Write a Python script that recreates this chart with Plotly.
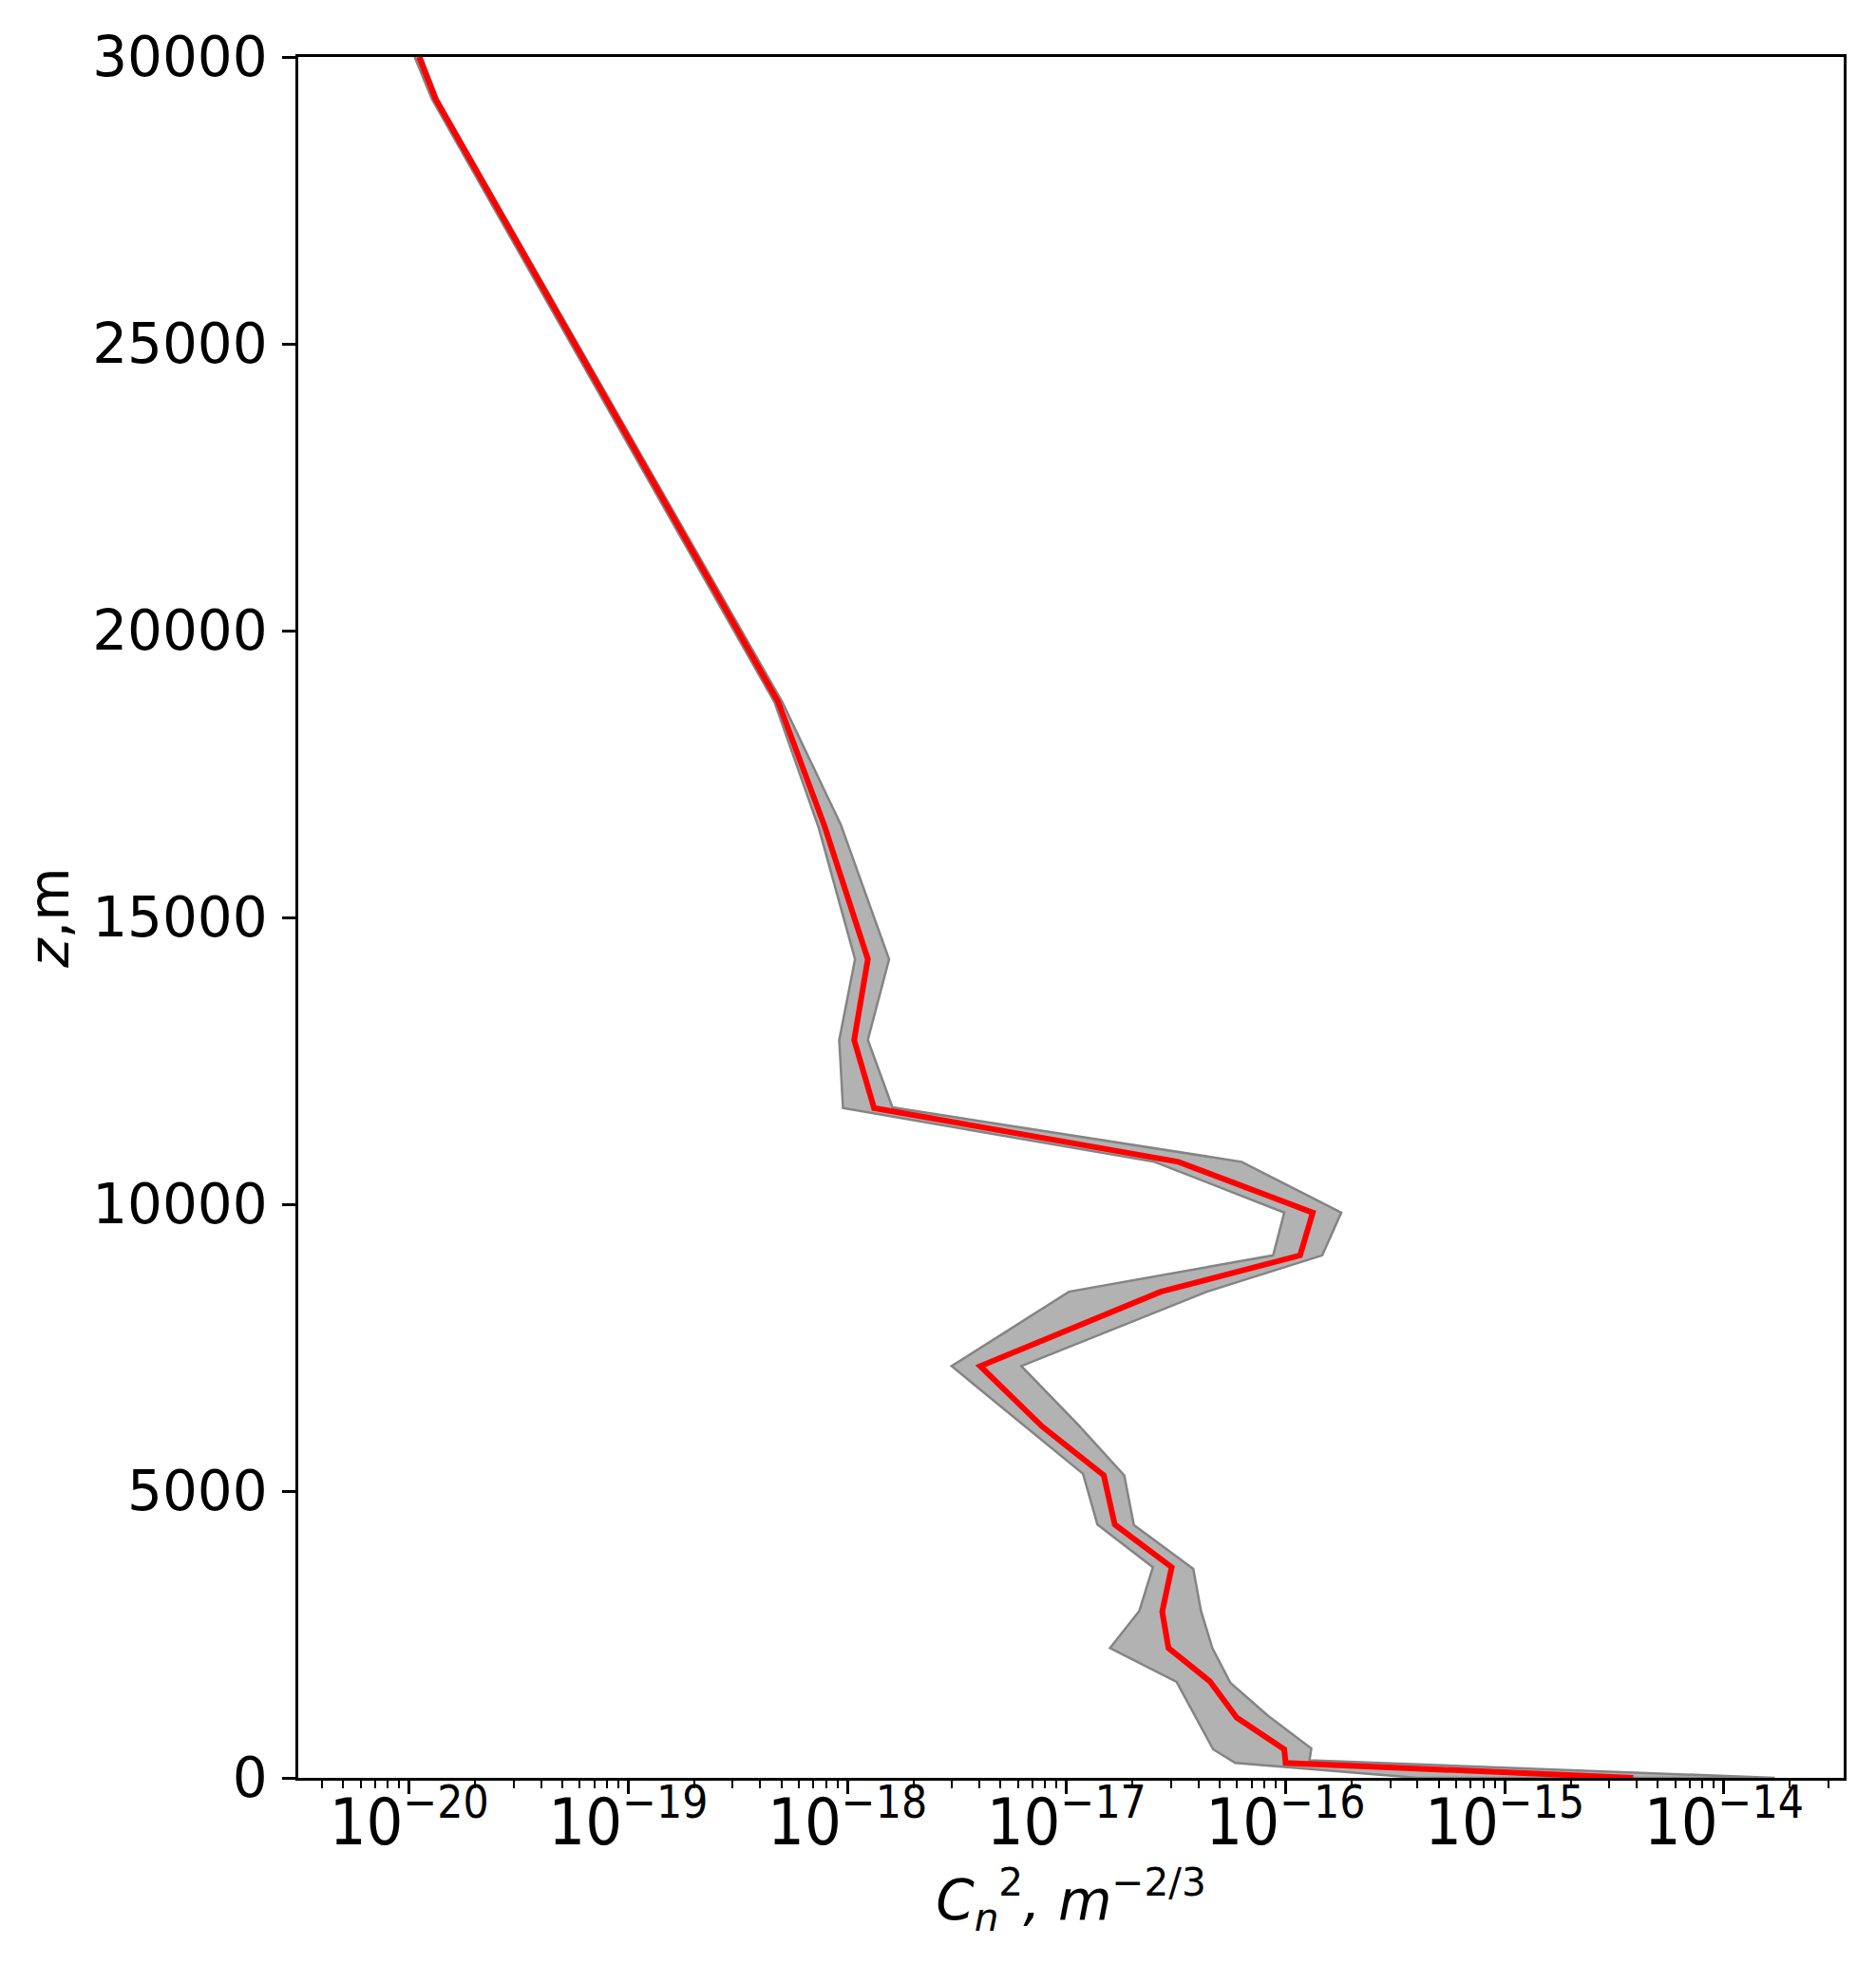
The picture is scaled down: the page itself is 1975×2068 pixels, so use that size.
import plotly.graph_objects as go

# ---- data ----
# mean Cn^2 profile
z_mean = [30000, 29267, 18760, 16590, 14271, 12864, 11676, 10739, 9854, 9109, 8475,
          7178, 6128, 5273, 4417, 3672, 2898, 2264, 1684, 1050, 497, 260, 0]
cn2_mean = [1.11e-20, 1.32e-20, 4.83e-19, 7.87e-19, 1.24e-18, 1.074e-18, 1.324e-18,
            3.24e-17, 1.33e-16, 1.164e-16, 2.69e-17, 4.04e-18, 7.73e-18, 1.48e-17,
            1.66e-17, 3.02e-17, 2.735e-17, 2.92e-17, 4.51e-17, 5.98e-17, 9.86e-17,
            1.00e-16, 3.86e-15]

# lower envelope of the band
z_low = [30000, 29267, 18752, 16562, 14271, 12864, 11676, 10739, 9854, 9109, 8475,
         7178, 5300, 4417, 3672, 2910, 2264, 1673, 497, 260, 0]
cn2_low = [1.06e-20, 1.27e-20, 4.65e-19, 7.40e-19, 1.084e-18, 9.18e-19, 9.55e-19,
           2.52e-17, 9.86e-17, 8.77e-17, 1.026e-17, 2.99e-18, 1.19e-17, 1.384e-17,
           2.48e-17, 2.15e-17, 1.58e-17, 3.18e-17, 4.67e-17, 5.89e-17, 4.0e-16]

# upper envelope of the band
z_high = [30000, 29267, 18752, 16620, 14271, 12864, 11688, 10739, 9854, 9109, 8475,
          7178, 6156, 5273, 4409, 3644, 2910, 2264, 1656, 1077, 513, 305, 0]
cn2_high = [1.14e-20, 1.35e-20, 5.05e-19, 9.33e-19, 1.55e-18, 1.24e-18, 1.606e-18,
            6.30e-17, 1.795e-16, 1.47e-16, 4.37e-17, 6.22e-18, 1.13e-17, 1.835e-17,
            2.03e-17, 3.79e-17, 4.11e-17, 4.63e-17, 5.60e-17, 8.35e-17, 1.31e-16,
            1.285e-16, 1.71e-14]

x_tickvals = [1e-20, 1e-19, 1e-18, 1e-17, 1e-16, 1e-15, 1e-14]
x_ticktext = ["10<sup>\u221220</sup>", "10<sup>\u221219</sup>", "10<sup>\u221218</sup>",
              "10<sup>\u221217</sup>", "10<sup>\u221216</sup>", "10<sup>\u221215</sup>",
              "10<sup>\u221214</sup>"]
y_tickvals = [0, 5000, 10000, 15000, 20000, 25000, 30000]
y_ticktext = ["0", "5000", "10000", "15000", "20000", "25000", "30000"]

# ---- figure ----
band_x = cn2_low + cn2_high[::-1]
band_y = z_low + z_high[::-1]

fig = go.Figure()
fig.add_trace(go.Scatter(
    x=band_x, y=band_y, mode="lines", fill="toself",
    fillcolor="rgb(178,178,178)",
    line=dict(color="rgb(132,132,132)", width=2.5),
    hoverinfo="skip", showlegend=False,
))
fig.add_trace(go.Scatter(
    x=cn2_mean, y=z_mean, mode="lines",
    line=dict(color="rgb(255,0,0)", width=6),
    showlegend=False,
))

axis_common = dict(
    showline=True, linecolor="black", linewidth=2.5, mirror=True,
    ticks="outside", ticklen=14, tickwidth=2.5, tickcolor="black",
    showgrid=False, zeroline=False,
)

fig.update_xaxes(
    type="log", range=[-20.506, -13.453],
    tickmode="array", tickvals=x_tickvals, ticktext=x_ticktext,
    tickfont=dict(family="DejaVu Sans Condensed, Liberation Sans Narrow, DejaVu Sans",
                  size=68, color="black"),
    ticklabelstandoff=-28,
    minor=dict(ticks="outside", ticklen=8, tickwidth=2, tickcolor="black",
               dtick="D1", showgrid=False),
    title=dict(text="<i>C</i><sub><i>n</i></sub><sup>2</sup><i>, m</i><sup>\u22122/3</sup>",
               font=dict(family="DejaVu Sans", size=58, color="black"),
               standoff=12),
    **axis_common,
)
fig.update_yaxes(
    range=[0, 30000],
    tickmode="array", tickvals=y_tickvals, ticktext=y_ticktext,
    tickfont=dict(family="DejaVu Sans", size=58, color="black"),
    ticklabelstandoff=4,
    title=dict(text="<i>z</i>,m", font=dict(family="DejaVu Sans", size=58, color="black"),
               standoff=6),
    **axis_common,
)

fig.update_layout(
    width=1975, height=2068,
    margin=dict(l=306, r=42, t=52, b=204, autoexpand=False),
    paper_bgcolor="white", plot_bgcolor="white",
    font=dict(family="DejaVu Sans", color="black"),
)

fig.write_html("out.html")
